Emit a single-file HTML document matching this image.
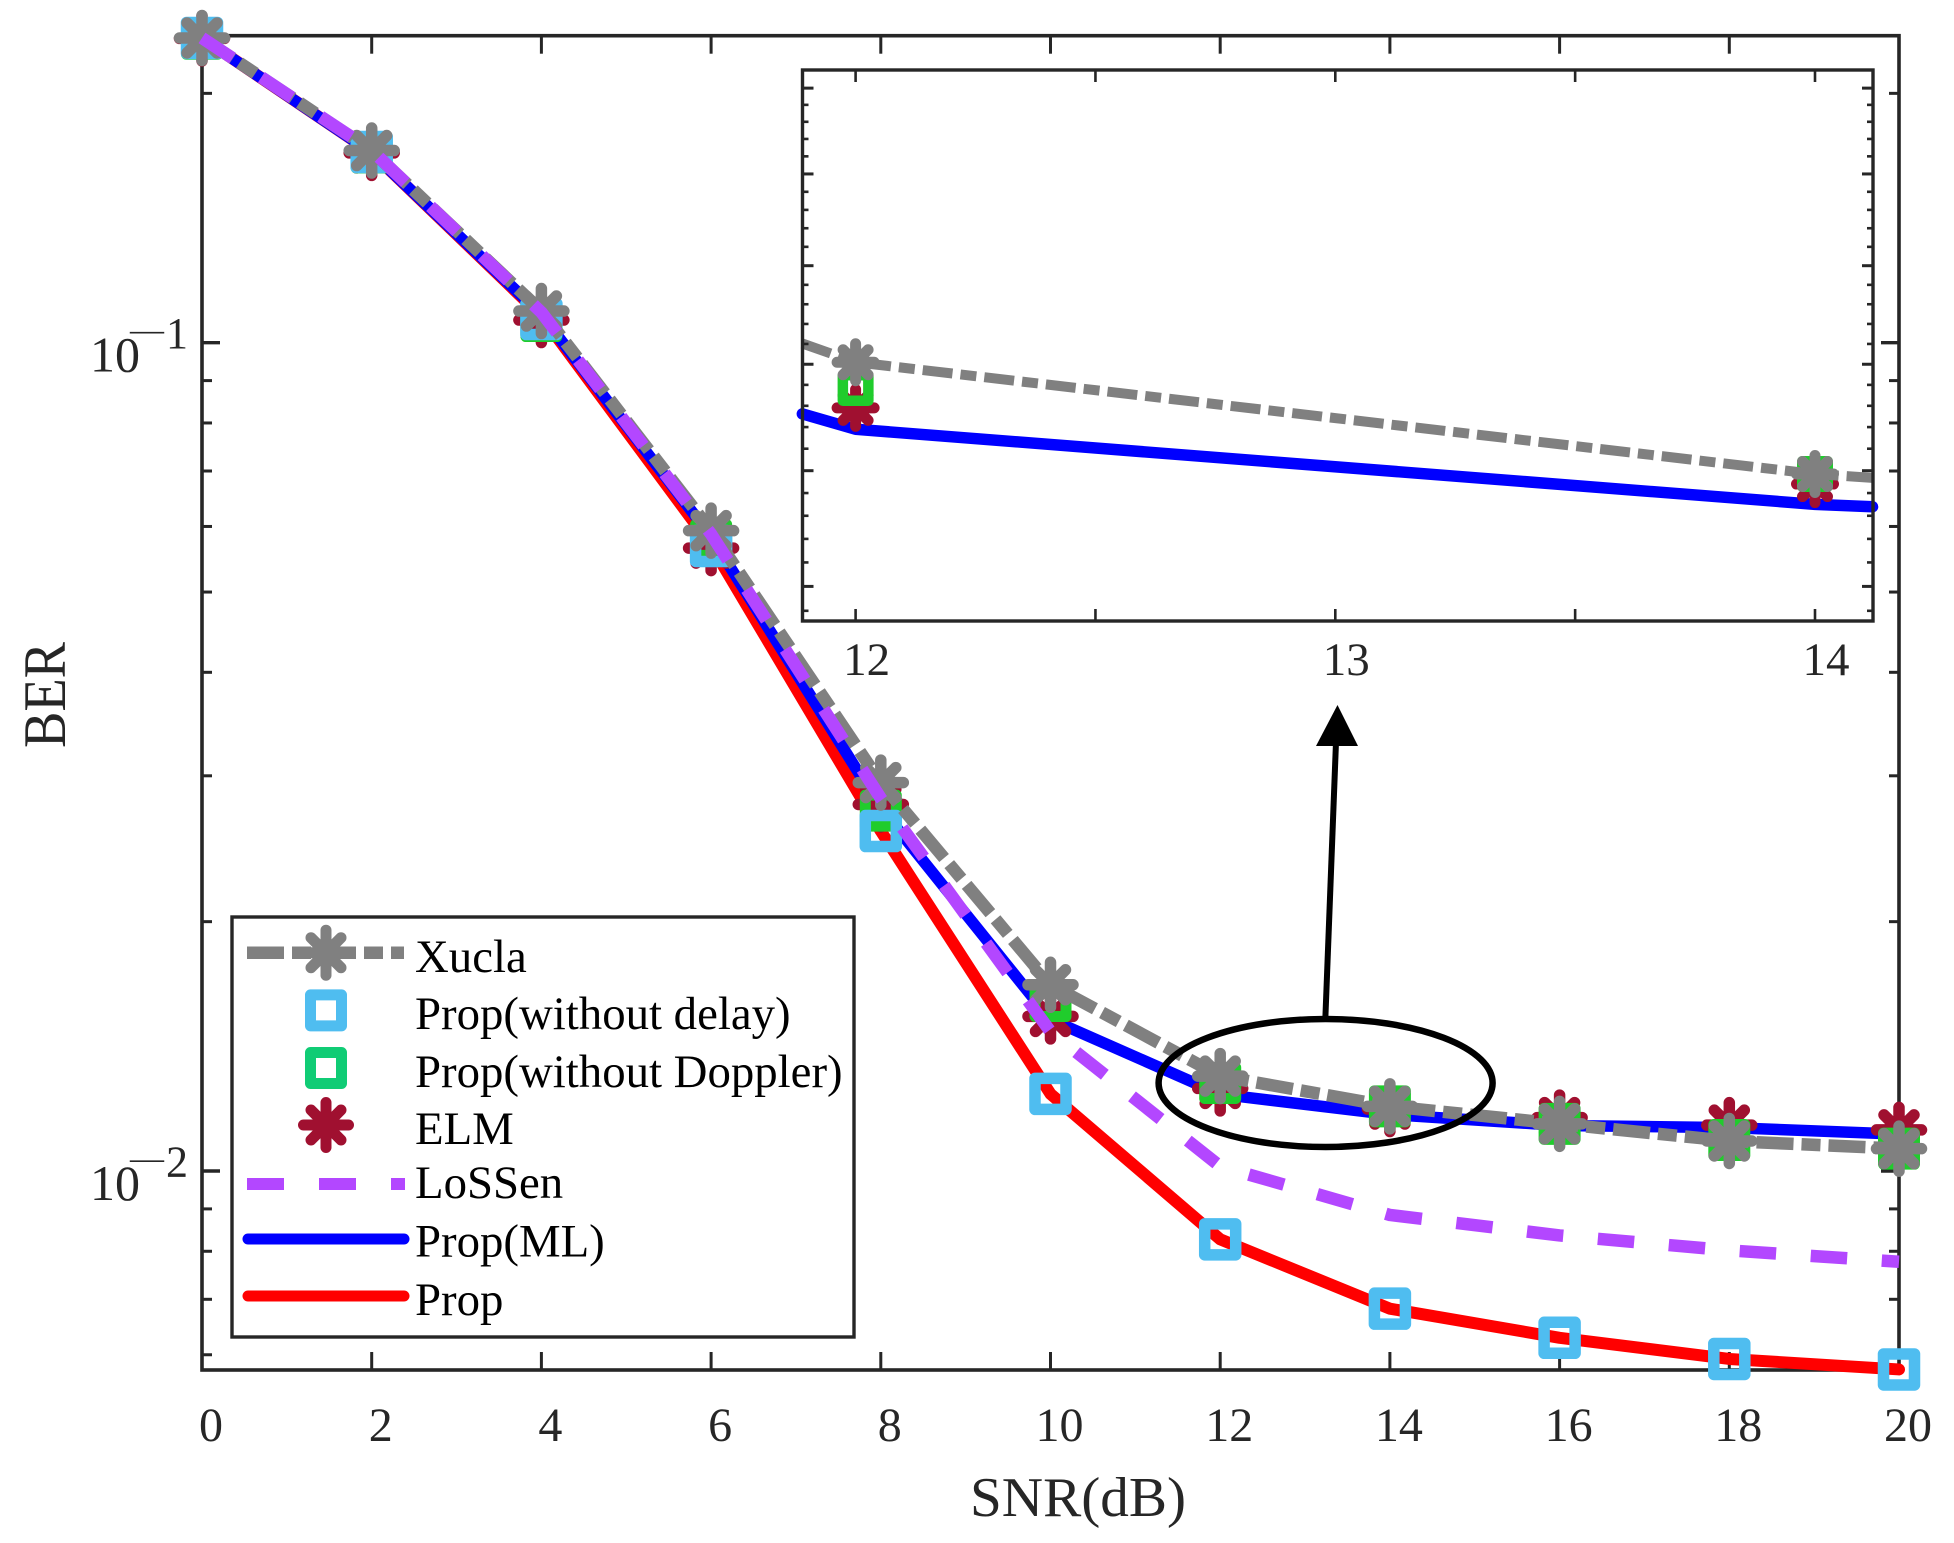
<!DOCTYPE html>
<html lang="en">
<head>
<meta charset="utf-8">
<title>BER vs SNR</title>
<style>
html,body{margin:0;padding:0;background:#fff;}
svg{display:block;}
text{font-family:"Liberation Serif",serif;}
</style>
</head>
<body>
<svg id="chart" xmlns="http://www.w3.org/2000/svg" width="1954" height="1543" viewBox="0 0 1954 1543"></svg>
<script>
const snr = [0, 2, 4, 6, 8, 10, 12, 14, 16, 18, 20];
const xucla = [0.2333, 0.1706, 0.1092, 0.0593, 0.02944, 0.01678, 0.01302, 0.01197, 0.0114, 0.01087, 0.01064];
const propWithoutDelay = [0.2333, 0.1699, 0.1068, 0.05683, 0.02573, 0.01239, 0.00827, 0.00682, 0.00629, 0.00593, 0.00576];
const propWithoutDoppler = [0.2328, 0.1697, 0.1062, 0.0578, 0.02723, 0.01604, 0.01277, 0.01197, 0.0114, 0.0109, 0.01064];
const elm = [0.233, 0.1695, 0.1065, 0.0565, 0.0277, 0.01537, 0.01258, 0.01188, 0.0116, 0.01136, 0.01121];
const lossen = [0.2333, 0.1707, 0.1088, 0.05874, 0.02818, 0.01473, 0.01013, 0.00885, 0.00836, 0.00802, 0.00777];
const propMl = [0.2333, 0.1696, 0.1081, 0.05833, 0.02742, 0.01524, 0.01238, 0.0117, 0.01135, 0.01128, 0.01108];
const prop = [0.2333, 0.1696, 0.1077, 0.05694, 0.02573, 0.01239, 0.00827, 0.00682, 0.00629, 0.00593, 0.00576];

const xTickValues = [0, 2, 4, 6, 8, 10, 12, 14, 16, 18, 20];
const xTickLabels = ["0", "2", "4", "6", "8", "10", "12", "14", "16", "18", "20"];
const yMajorValues = [0.1, 0.01];
const yMajorExponents = ["1", "2"];
const yMinorValues = [0.2, 0.09, 0.08, 0.07, 0.06, 0.05, 0.04, 0.03, 0.02, 0.009, 0.008, 0.007, 0.006];
const insetXTicks = [12, 12.5, 13, 13.5, 14];
const insetXLabelValues = [12, 13, 14];
const insetXLabels = ["12", "13", "14"];
const insetYMajor = [0.011, 0.012, 0.013, 0.014, 0.015, 0.016];
const insetYMinor = [0.0108, 0.0112, 0.0114, 0.0116, 0.0118, 0.0122, 0.0124, 0.0126, 0.0128, 0.0132, 0.0134, 0.0136, 0.0138, 0.0142, 0.0144, 0.0146, 0.0148, 0.0152, 0.0154, 0.0156, 0.0158];
const legendLabels = ["Xucla", "Prop(without delay)", "Prop(without Doppler)", "ELM", "LoSSen", "Prop(ML)", "Prop"];

const NS = "http://www.w3.org/2000/svg";
const svg = document.getElementById("chart");
const AXIS = "#262626", GRAY = "#808080", CYAN = "#4FBDF0", GREEN = "#20CC2C", LEGEND_GREEN = "#10CC75",
      MAROON = "#A01030", PURPLE = "#B347FF", BLUE = "#0000FF", RED = "#FF0000";

function make(tag, attrs, parent) {
  const el = document.createElementNS(NS, tag);
  for (const k in attrs) el.setAttribute(k, attrs[k]);
  (parent || svg).appendChild(el);
  return el;
}
const mainX = v => 202 + (v - 0) * (1899 - 202) / 20;
const mainY = v => 342.7 + 828.3 * (-1 - Math.log10(v));
const insetL = 802.5, insetR = 1873, insetT = 70, insetB = 621;
const insetX = v => 855.6 + (v - 12) * 479.7;
const insetY = v => 586.4 - 3062 * (Math.log10(v) - Math.log10(0.011));

function starPath(x, y, r, d) {
  return "M" + (x - r) + " " + y + "H" + (x + r) +
         "M" + x + " " + (y - r) + "V" + (y + r) +
         "M" + (x - d) + " " + (y - d) + "L" + (x + d) + " " + (y + d) +
         "M" + (x - d) + " " + (y + d) + "L" + (x + d) + " " + (y - d);
}
function drawStar(parent, x, y, color, r, d, w) {
  const el = make("path", {d: starPath(x, y, r, d), fill: "none", stroke: color, "stroke-width": w, "stroke-linecap": "round"}, parent);
  
  
}
function drawSquare(parent, x, y, color, s, w) {
  const el = make("rect", {x: x - s / 2, y: y - s / 2, width: s, height: s, fill: "none", stroke: color, "stroke-width": w, "stroke-linejoin": "round"}, parent);
  
  
}
function pointsAttr(xs, ys, fx, fy) {
  return xs.map((x, i) => fx(x).toFixed(2) + "," + fy(ys[i]).toFixed(2)).join(" ");
}
function drawLine(parent, name, xs, ys, fx, fy, color, width, dash) {
  const attrs = {points: pointsAttr(xs, ys, fx, fy), fill: "none", stroke: color, "stroke-width": width, "stroke-linejoin": "round", "stroke-linecap": dash ? "butt" : "round"};
  if (dash) attrs["stroke-dasharray"] = dash;
  const el = make("polyline", attrs, parent);
  
  
}
function tickLine(parent, name, x1, y1, x2, y2, w) {
  const el = make("line", {x1: x1, y1: y1, x2: x2, y2: y2, stroke: AXIS, "stroke-width": w}, parent);
  
  
}
function label(parent, name, x, y, size, str, anchor, color) {
  const el = make("text", {x: x, y: y, "font-size": size, "text-anchor": anchor || "start", fill: color || AXIS}, parent);
  el.textContent = str;
  
  
  return el;
}

/* ---------- main axes ---------- */
const mainG = make("g", {});


const L = mainX(0), R = mainX(20), T = 35.7, B = 1370;
xTickValues.forEach((v, i) => {
  tickLine(mainG, "x-tick-bottom", mainX(v), B, mainX(v), B - 18, 3);
  tickLine(mainG, "x-tick-top", mainX(v), T, mainX(v), T + 18, 3);
  label(mainG, "x-tick-label", mainX(v) + 9, 1441, 48, xTickLabels[i], "middle");
});
yMajorValues.forEach((v, i) => {
  tickLine(mainG, "y-major-tick-left", L, mainY(v), L + 18, mainY(v), 3.4);
  tickLine(mainG, "y-major-tick-right", R, mainY(v), R - 18, mainY(v), 3.4);
  const yy = mainY(v);
  label(mainG, "y-tick-base", 90, yy + 29, 50, "10");
  label(mainG, "y-tick-minus", 130, yy - 2, 34, "\u2014");
  label(mainG, "y-tick-exponent", 166, yy + 5.5, 44, yMajorExponents[i]);
});
yMinorValues.forEach(v => {
  tickLine(mainG, "y-minor-tick-left", L, mainY(v), L + 10, mainY(v), 3);
  tickLine(mainG, "y-minor-tick-right", R, mainY(v), R - 10, mainY(v), 3);
});
const frame = make("rect", {x: L, y: T, width: R - L, height: B - T, fill: "none", stroke: AXIS, "stroke-width": 3.6}, mainG);



const xTitle = label(mainG, "x-axis-title", 970, 1516, 56, "SNR(dB)");
xTitle.setAttribute("textLength", "216");
xTitle.setAttribute("lengthAdjust", "spacingAndGlyphs");
const yTitle = label(mainG, "y-axis-title", 0, 0, 60, "BER", "middle");
yTitle.setAttribute("transform", "translate(65 695) rotate(-90)");
yTitle.setAttribute("textLength", "106");
yTitle.setAttribute("lengthAdjust", "spacingAndGlyphs");

/* ---------- main series ---------- */
const seriesG = make("g", {});


drawLine(seriesG, "prop-line", snr, prop, mainX, mainY, RED, 12);
drawLine(seriesG, "prop-ml-line", snr, propMl, mainX, mainY, BLUE, 11.5);
snr.forEach((x, i) => drawStar(seriesG, mainX(x), mainY(elm[i]), MAROON, 22.5, 15, 11.5));
snr.forEach((x, i) => drawSquare(seriesG, mainX(x), mainY(propWithoutDoppler[i]), GREEN, 31, 11));
snr.forEach((x, i) => drawSquare(seriesG, mainX(x), mainY(propWithoutDelay[i]), CYAN, 31, 11.5));
drawLine(seriesG, "xucla-line", snr, xucla, mainX, mainY, GRAY, 12.5, "37 8 19 8");
snr.forEach((x, i) => drawStar(seriesG, mainX(x), mainY(xucla[i]), GRAY, 22.5, 15, 11.5));
drawLine(seriesG, "lossen-line", snr, lossen, mainX, mainY, PURPLE, 12.5, "36.5 34.7");

/* ---------- inset ---------- */
const insetG = make("g", {});


const insetBg = make("rect", {x: insetL, y: insetT, width: insetR - insetL, height: insetB - insetT, fill: "#fff"}, insetG);


function clipSeries(ys) {
  const xlo = 11.889, xhi = 14.12;
  const a = Math.log10(ys[5]), b = Math.log10(ys[6]), c = Math.log10(ys[7]), d = Math.log10(ys[8]);
  const lo = Math.pow(10, a + (b - a) * (xlo - 10) / 2);
  const hi = Math.pow(10, c + (d - c) * (xhi - 14) / 2);
  return {xs: [xlo, 12, 14, xhi], ys: [lo, ys[6], ys[7], hi]};
}
const blueClip = clipSeries(propMl);
const grayClip = clipSeries(xucla);
drawLine(insetG, "inset-prop-ml-line", blueClip.xs, blueClip.ys, insetX, insetY, BLUE, 11.5);
[6, 7].forEach(i => drawStar(insetG, insetX(snr[i]), insetY(elm[i]), MAROON, 18.5, 12.5, 11));
[6, 7].forEach(i => drawSquare(insetG, insetX(snr[i]), insetY(propWithoutDoppler[i]), GREEN, 25.5, 10.5));
drawLine(insetG, "inset-xucla-line", grayClip.xs, grayClip.ys, insetX, insetY, GRAY, 10, "30 8 16 8");
[6, 7].forEach(i => drawStar(insetG, insetX(snr[i]), insetY(xucla[i]), GRAY, 18.5, 12.5, 11));
insetXTicks.forEach(v => {
  tickLine(insetG, "inset-x-tick-bottom", insetX(v), insetB, insetX(v), insetB - 12, 2.6);
  tickLine(insetG, "inset-x-tick-top", insetX(v), insetT, insetX(v), insetT + 12, 2.6);
});
insetXLabelValues.forEach((v, i) => {
  label(insetG, "inset-x-tick-label", insetX(v) + 11, 675, 47, insetXLabels[i], "middle");
});
insetYMajor.forEach(v => {
  tickLine(insetG, "inset-y-major-tick-left", insetL, insetY(v), insetL + 11, insetY(v), 3);
  tickLine(insetG, "inset-y-major-tick-right", insetR, insetY(v), insetR - 11, insetY(v), 3);
});
insetYMinor.forEach(v => {
  tickLine(insetG, "inset-y-minor-tick-left", insetL, insetY(v), insetL + 6, insetY(v), 2.6);
  tickLine(insetG, "inset-y-minor-tick-right", insetR, insetY(v), insetR - 6, insetY(v), 2.6);
});
const insetFrame = make("rect", {x: insetL, y: insetT, width: insetR - insetL, height: insetB - insetT, fill: "none", stroke: AXIS, "stroke-width": 3.4}, insetG);



/* ---------- annotation ---------- */
const annG = make("g", {});


const ell = make("ellipse", {cx: 1325.6, cy: 1083, rx: 167, ry: 64, fill: "none", stroke: "#000", "stroke-width": 6.5}, annG);


const shaft = make("line", {x1: 1325.4, y1: 1017, x2: 1336, y2: 742, stroke: "#000", "stroke-width": 6}, annG);


const head = make("polygon", {points: "1337.5,705 1316,746 1358,746", fill: "#000"}, annG);



/* ---------- legend ---------- */
const legG = make("g", {});


const legBox = make("rect", {x: 232, y: 917, width: 622, height: 420, fill: "#fff", stroke: AXIS, "stroke-width": 3.4}, legG);


const rowY = [952.7, 1010.4, 1068, 1125, 1184, 1239, 1296];
const baseY = [972, 1029, 1087, 1144, 1198, 1256.5, 1315];
legendLabels.forEach((t, i) => label(legG, "legend-label", 415, baseY[i], 46.8, t, "start", "#000"));
function legendLine(name, y, color, w, dash, x1, x2) {
  const attrs = {x1: x1, y1: y, x2: x2, y2: y, stroke: color, "stroke-width": w, "stroke-linecap": dash ? "butt" : "round"};
  if (dash) attrs["stroke-dasharray"] = dash;
  const el = make("line", attrs, legG);
  
  
}
legendLine("legend-xucla-line", rowY[0], GRAY, 12.5, "37 8 19 8", 247, 404);
drawStar(legG, 326, rowY[0], GRAY, 22.5, 15, 11);
drawSquare(legG, 326, rowY[1], CYAN, 31, 11);
drawSquare(legG, 326, rowY[2], LEGEND_GREEN, 31, 11);
drawStar(legG, 326, rowY[3], MAROON, 22.5, 15, 11);
legendLine("legend-lossen-line", rowY[4], PURPLE, 12, "37 35", 247, 405);
legendLine("legend-prop-ml-line", rowY[5], BLUE, 11, null, 248, 404);
legendLine("legend-prop-line", rowY[6], RED, 11, null, 248, 404);
</script>
</body>
</html>
